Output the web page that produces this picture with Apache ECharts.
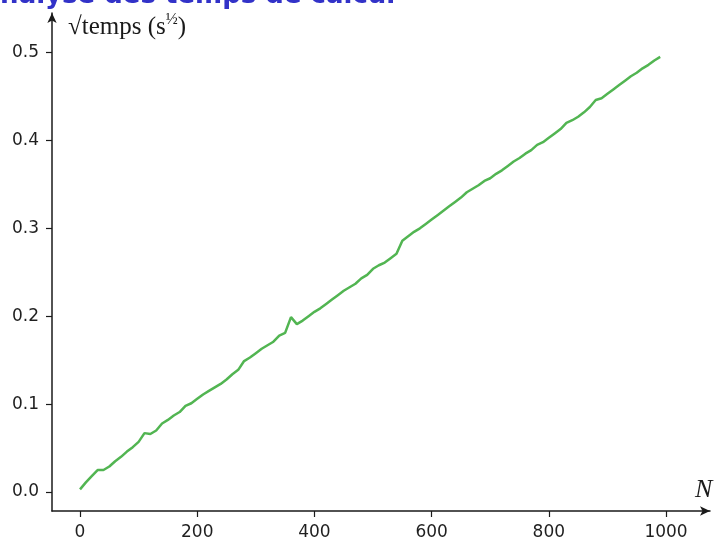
<!DOCTYPE html>
<html>
<head>
<meta charset="utf-8">
<script src="https://cdn.jsdelivr.net/npm/echarts@6/dist/echarts.min.js"></script>
<style>
  html, body { margin: 0; padding: 0; background: #fff; }
  #chart { width: 717px; height: 541px; }
</style>
</head>
<body>
<div id="chart"></div>
<script>
// N (taille) et racine du temps de calcul
const nValues = [
  0, 10, 20, 30, 40, 50, 60, 70, 80, 90,
  100, 110, 120, 130, 140, 150, 160, 170, 180, 190,
  200, 210, 220, 230, 240, 250, 260, 270, 280, 290,
  300, 310, 320, 330, 340, 350, 360, 370, 380, 390,
  400, 410, 420, 430, 440, 450, 460, 470, 480, 490,
  500, 510, 520, 530, 540, 550, 560, 570, 580, 590,
  600, 610, 620, 630, 640, 650, 660, 670, 680, 690,
  700, 710, 720, 730, 740, 750, 760, 770, 780, 790,
  800, 810, 820, 830, 840, 850, 860, 870, 880, 890,
  900, 910, 920, 930, 940, 950, 960, 970, 980, 990
]
const sqrtTemps = [
  0.003, 0.011, 0.018, 0.025, 0.025, 0.029, 0.035, 0.040, 0.046, 0.051,
  0.057, 0.067, 0.066, 0.070, 0.078, 0.082, 0.087, 0.091, 0.098, 0.101,
  0.106, 0.111, 0.115, 0.119, 0.123, 0.128, 0.134, 0.139, 0.149, 0.153,
  0.158, 0.163, 0.167, 0.171, 0.178, 0.181, 0.199, 0.191, 0.195, 0.200,
  0.205, 0.209, 0.214, 0.219, 0.224, 0.229, 0.233, 0.237, 0.243, 0.247,
  0.254, 0.258, 0.261, 0.266, 0.271, 0.286, 0.291, 0.296, 0.300, 0.305,
  0.310, 0.315, 0.320, 0.325, 0.330, 0.335, 0.341, 0.345, 0.349, 0.354,
  0.357, 0.362, 0.366, 0.371, 0.376, 0.380, 0.385, 0.389, 0.395, 0.398,
  0.403, 0.408, 0.413, 0.420, 0.423, 0.427, 0.432, 0.438, 0.446, 0.448,
  0.453, 0.458, 0.463, 0.468, 0.473, 0.477, 0.482, 0.486, 0.491, 0.495
]
const xTicks = [0, 200, 400, 600, 800, 1000]
const yTicks = [0, 0.1, 0.2, 0.3, 0.4, 0.5]

const axisColor = '#1a1a1a'
const tickFont = { fontFamily: 'DejaVu Sans', fontSize: 17, color: '#1f1f1f' }

const myChart = echarts.init(document.getElementById('chart'))

const option = {
  animation: false,
  backgroundColor: '#ffffff',
  grid: { left: 52, right: 7, top: 13, bottom: 29, containLabel: false },
  xAxis: {
    type: 'value',
    min: -47.8,
    max: 1075,
    splitLine: { show: false },
    axisLine: {
      show: true,
      onZero: false,
      symbol: ['none', 'arrow'],
      symbolSize: [7, 10],
      lineStyle: { color: axisColor, width: 1.5 }
    },
    axisTick: { show: true, length: 6, customValues: xTicks, lineStyle: { color: axisColor, width: 1.2 } },
    axisLabel: { ...tickFont, margin: 13, customValues: xTicks, formatter: v => String(v) }
  },
  yAxis: {
    type: 'value',
    min: -0.0216,
    max: 0.545,
    splitLine: { show: false },
    axisLine: {
      show: true,
      onZero: false,
      symbol: ['none', 'arrow'],
      symbolSize: [7, 10],
      lineStyle: { color: axisColor, width: 1.5 }
    },
    axisTick: { show: true, length: 6, customValues: yTicks, lineStyle: { color: axisColor, width: 1.2 } },
    axisLabel: {
      ...tickFont,
      margin: 13,
      customValues: yTicks,
      formatter: v => v.toFixed(1)
    }
  },
  graphic: [
    {
      type: 'text',
      x: -20,
      y: 9,
      style: {
        text: 'Analyse des temps de calcul',
        font: 'bold 26px "DejaVu Sans"',
        fill: '#3232c8',
        verticalAlign: 'bottom'
      }
    },
    {
      type: 'text',
      x: 68,
      y: 27,
      style: {
        text: '√temps (s{sup|½})',
        font: '25px "Liberation Serif"',
        fill: '#1a1a1a',
        verticalAlign: 'middle',
        rich: {
          sup: { fontFamily: 'Liberation Serif', fontSize: 16, padding: [0, 0, 14, 0], fill: '#1a1a1a' }
        }
      }
    },
    {
      type: 'text',
      x: 695,
      y: 490,
      style: {
        text: 'N',
        font: 'italic 26px "Liberation Serif"',
        fill: '#1a1a1a',
        verticalAlign: 'middle'
      }
    }
  ],
  series: [
    {
      type: 'line',
      data: nValues.map((n, i) => [n, sqrtTemps[i]]),
      showSymbol: false,
      smooth: false,
      lineStyle: { color: '#52b552', width: 2.5 },
      itemStyle: { color: '#52b552' }
    }
  ]
}

myChart.setOption(option)
window.addEventListener('resize', myChart.resize)
</script>
</body>
</html>
